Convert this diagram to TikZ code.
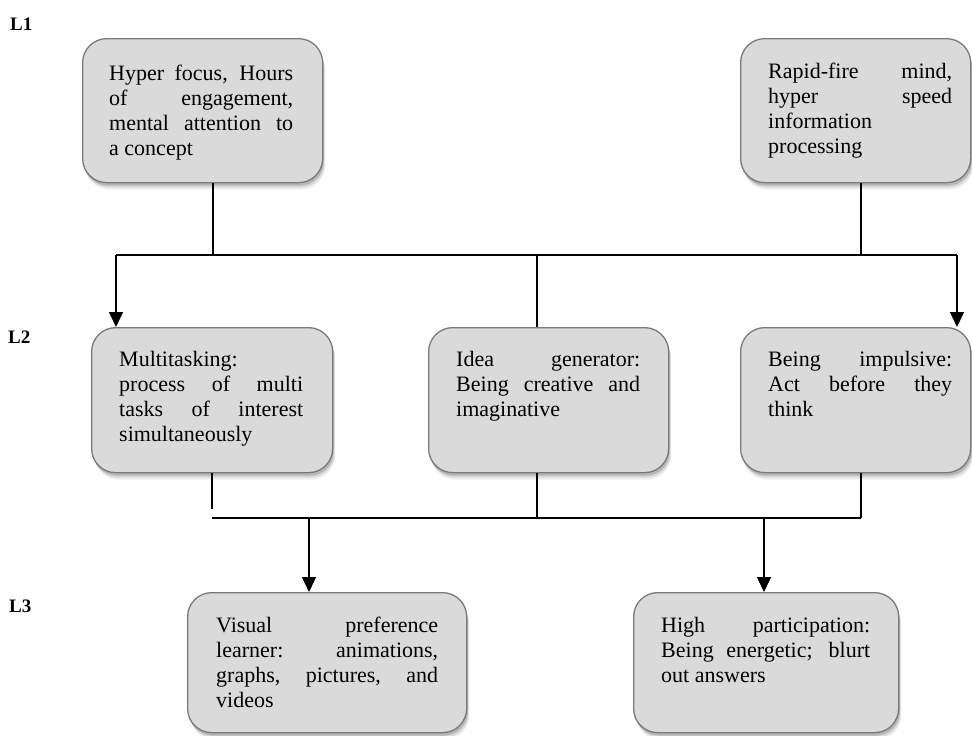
\documentclass[tikz,border=0pt]{standalone}
\usepackage{fontspec}
\setmainfont{Liberation Serif}
\usetikzlibrary{arrows.meta,shadows}
\definecolor{boxfill}{RGB}{218,218,218}
\definecolor{boxline}{RGB}{122,122,122}
% loose justified lines, no hyphenation
\newcommand\boxtextsetup{\fontsize{22}{25}\selectfont\tolerance=10000\relax
  \hbadness=10000\relax\hyphenpenalty=10000\relax\exhyphenpenalty=10000\relax}
\begin{document}
\begin{tikzpicture}[x=1pt,y=-1pt,
  box/.style={draw=boxline, line width=1.3pt, fill=boxfill, rounded corners=24pt,
    anchor=north west, inner sep=0pt,
    general shadow={fill=black, opacity=0.06, shadow xshift=2.5pt, shadow yshift=-7pt},
    general shadow={fill=black, opacity=0.10, shadow xshift=2pt, shadow yshift=-5pt},
    general shadow={fill=black, opacity=0.16, shadow xshift=1.2pt, shadow yshift=-3pt}},
  txt/.style={anchor=base west, inner sep=0pt, text width=184pt, align=justify,
    font=\boxtextsetup},
  lvl/.style={anchor=base west, inner sep=0pt, font=\fontsize{19}{22}\selectfont\bfseries},
  wire/.style={draw=black, line width=1.5pt},
  arrow/.style={wire, -{Triangle[width=14pt,length=15pt]}}]
\useasboundingbox (0,0) rectangle (972,736);

% level labels
\node[lvl] (l1) at (10,30) {L1};
\node[lvl] (l2) at (8,343) {L2};
\node[lvl] (l3) at (9,612) {L3};

% level 1
\node[box, minimum width=240pt, minimum height=144pt] (A) at (82,38) {};
\node[txt] (At) at (109,80) {Hyper focus, Hours\linebreak of engagement,\linebreak mental attention to\linebreak a concept};
\node[box, minimum width=230pt, minimum height=144pt] (B) at (740,38) {};
\node[txt] (Bt) at (768,78) {Rapid-fire mind,\linebreak hyper speed\linebreak information\linebreak processing};

% level 2
\node[box, minimum width=241pt, minimum height=145pt] (D) at (91,327) {};
\node[txt] (Dt) at (119,366) {Multitasking:\linebreak process of multi\linebreak tasks of interest\linebreak simultaneously};
\node[box, minimum width=240pt, minimum height=145pt] (C) at (428,327) {};
\node[txt] (Ct) at (456,366) {Idea generator:\linebreak Being creative and\linebreak imaginative};
\node[box, minimum width=230pt, minimum height=145pt] (E) at (740,327) {};
\node[txt] (Et) at (768,366) {Being impulsive:\linebreak Act before they\linebreak think};

% level 3
\node[box, minimum width=279pt, minimum height=140pt] (F) at (187,592) {};
\node[txt, text width=222pt] (Ft) at (216,632) {Visual preference\linebreak learner: animations,\linebreak graphs, pictures, and\linebreak videos};
\node[box, minimum width=265pt, minimum height=140pt] (G) at (633,592) {};
\node[txt, text width=209pt] (Gt) at (661,632) {High participation:\linebreak Being energetic; blurt\linebreak out answers};

% upper bus
\coordinate (tl) at (116,255);
\coordinate (tr) at (957,255);
\coordinate (ta) at (213,255);
\coordinate (tb) at (861,255);
\coordinate (tc) at (537,255);
\draw[wire] (tl) -- (tr);
\draw[wire] (A.south -| ta) -- (ta);
\draw[wire] (B.south -| tb) -- (tb);
\draw[wire] (tc) -- (tc |- C.north);
\draw[arrow] (tl) -- (tl |- D.north);
\draw[arrow] (tr) -- (tr |- E.north);

% lower bus
\coordinate (bl) at (212,518);
\coordinate (br) at (861,518);
\coordinate (bd) at (212,509);
\coordinate (bc) at (537,518);
\coordinate (bf) at (309,518);
\coordinate (bg) at (764,518);
\draw[wire] (bl) -- (br);
\draw[wire] (D.south -| bd) -- (bd);
\draw[wire] (C.south -| bc) -- (bc);
\draw[wire] (E.south -| br) -- (br);
\draw[arrow] (bf) -- (bf |- F.north);
\draw[arrow] (bg) -- (bg |- G.north);
\end{tikzpicture}
\end{document}
